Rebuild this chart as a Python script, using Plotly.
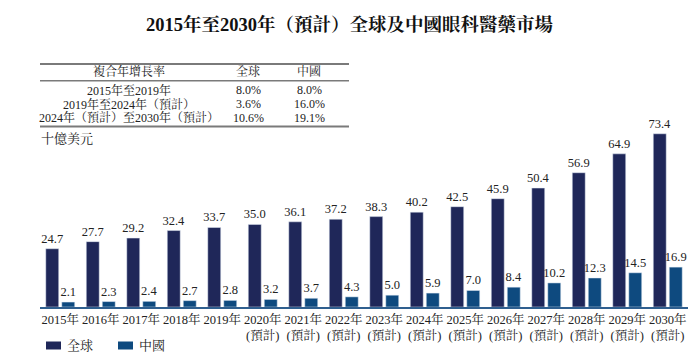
import plotly.graph_objects as go

years = ["2015年", "2016年", "2017年", "2018年", "2019年",
         "2020年<br>(預計)", "2021年<br>(預計)", "2022年<br>(預計)", "2023年<br>(預計)",
         "2024年<br>(預計)", "2025年<br>(預計)", "2026年<br>(預計)", "2027年<br>(預計)",
         "2028年<br>(預計)", "2029年<br>(預計)", "2030年<br>(預計)"]
global_vals = [24.7, 27.7, 29.2, 32.4, 33.7, 35.0, 36.1, 37.2, 38.3, 40.2, 42.5, 45.9, 50.4, 56.9, 64.9, 73.4]
china_vals = [2.1, 2.3, 2.4, 2.7, 2.8, 3.2, 3.7, 4.3, 5.0, 5.9, 7.0, 8.4, 10.2, 12.3, 14.5, 16.9]

series_names = ["全球", "中國"]
table_header = ["複合年增長率", "全球", "中國"]
table_periods = ["2015年至2019年", "2019年至2024年（預計）", "2024年（預計）至2030年（預計）"]
table_global = ["8.0%", "3.6%", "10.6%"]
table_china = ["8.0%", "16.0%", "19.1%"]
unit_label = "十億美元"
title_text = "2015年至2030年（預計）全球及中國眼科醫藥市場"

FONT = "Liberation Serif, 'Noto Serif CJK TC', 'Noto Sans CJK TC', serif"
DARK = "#1f2759"
BLUE = "#0e4a7f"
TXT = "#222222"

W, H = 700, 355
L, R, T, B = 40, 12, 130, 48
PW, PH = W - L - R, H - T - B

def px(x):
    return (x - L) / PW

def py(y):
    return (H - B - y) / PH

fig = go.Figure()
fig.add_trace(go.Bar(x=years, y=global_vals, name=series_names[0], marker_color=DARK,
                     text=[f"{v:.1f}" for v in global_vals], textposition="outside",
                     constraintext="none", textfont=dict(size=12.5, color=TXT), cliponaxis=False,
                     showlegend=False))
fig.add_trace(go.Bar(x=years, y=china_vals, name=series_names[1], marker_color=BLUE,
                     text=[f"{v:.1f}" for v in china_vals], textposition="outside",
                     constraintext="none", textfont=dict(size=12.5, color=TXT), cliponaxis=False,
                     showlegend=False))

shapes = []
for y, w in [(64, 2), (80.7, 1.5), (126.5, 2)]:
    shapes.append(dict(type="line", xref="paper", yref="paper", x0=px(40), x1=px(349),
                       y0=py(y), y1=py(y), line=dict(color="#7a7a7a", width=w)))

ann = []
ann.append(dict(text=f"<b>{title_text}</b>", x=px(350), y=py(24), xref="paper", yref="paper",
                showarrow=False, xanchor="center", yanchor="middle", font=dict(size=18.5, color="#111")))
cols_x = [px(129), px(248), px(309)]
for cx, t in zip(cols_x, table_header):
    ann.append(dict(text=t, x=cx, y=py(72), xref="paper", yref="paper", showarrow=False,
                    xanchor="center", yanchor="middle", font=dict(size=12, color=TXT)))
rows_y = [90, 104, 117.5]
for ry, a, b, c in zip(rows_y, table_periods, table_global, table_china):
    for cx, t in zip(cols_x, [a, b, c]):
        ann.append(dict(text=t, x=cx, y=py(ry), xref="paper", yref="paper", showarrow=False,
                        xanchor="center", yanchor="middle", font=dict(size=12, color=TXT)))
ann.append(dict(text=unit_label, x=px(39), y=py(138), xref="paper", yref="paper", showarrow=False,
                xanchor="left", yanchor="middle", font=dict(size=13, color=TXT)))

# legend (custom swatches)
for (x0, name, col) in [(46, series_names[0], DARK), (118, series_names[1], BLUE)]:
    shapes.append(dict(type="rect", xref="paper", yref="paper", x0=px(x0), x1=px(x0 + 15),
                       y0=py(349.5), y1=py(341.5), fillcolor=col, line=dict(width=0)))
    ann.append(dict(text=name, x=px(x0 + 19), y=py(345.5), xref="paper", yref="paper",
                    showarrow=False, xanchor="left", yanchor="middle", font=dict(size=13, color=TXT)))

fig.update_layout(
    width=W, height=H,
    margin=dict(l=L, r=R, t=T, b=B, autoexpand=False),
    paper_bgcolor="white", plot_bgcolor="white",
    font=dict(family=FONT, color=TXT),
    barmode="group", bargap=0.21, bargroupgap=0.19,
    showlegend=False,
    xaxis=dict(showgrid=False, showline=True, linecolor="#2f5f8f", linewidth=1.5,
               ticks="", tickfont=dict(size=12.5, color=TXT), tickangle=0, fixedrange=True,
               automargin=False),
    yaxis=dict(range=[0, 75], visible=False, fixedrange=True, automargin=False),
    shapes=shapes, annotations=ann,
)

fig.write_html("out.html", config={"displayModeBar": False},
               post_script="document.body.style.margin='0';document.body.style.padding='0';")
